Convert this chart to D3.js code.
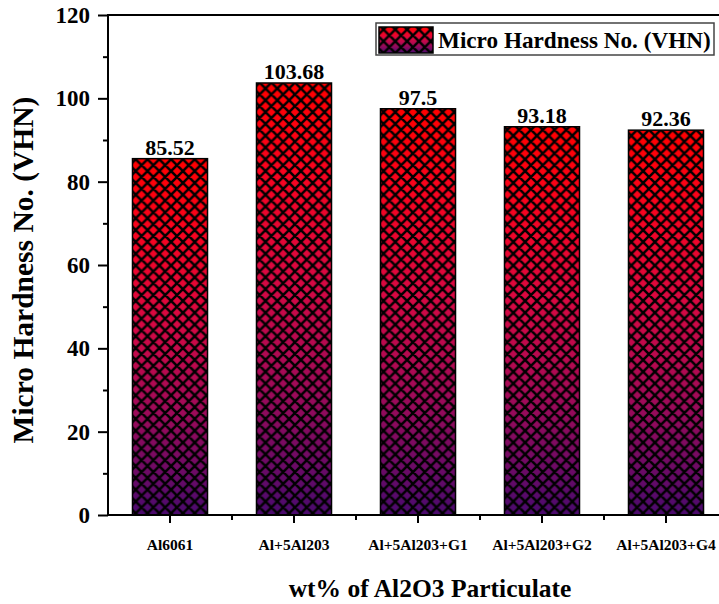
<!DOCTYPE html>
<html><head><meta charset="utf-8">
<script src="https://cdn.jsdelivr.net/npm/d3@7"></script>
<style>body{margin:0;background:#fff}svg{display:block}text{font-family:"Liberation Serif","Times New Roman",serif;font-weight:bold}</style>
</head><body>
<svg id="c" width="719" height="604"></svg>
<script>
const categories = ["Al6061","Al+5Al203","Al+5Al203+G1","Al+5Al203+G2","Al+5Al203+G4"];
const values = [85.52,103.68,97.5,93.18,92.36];
const valueLabels = ["85.52","103.68","97.5","93.18","92.36"];
const yTicks = [0,20,40,60,80,100,120];
const yMinorTicks = [10,30,50,70,90,110];
const seriesName = "Micro Hardness No. (VHN)";
const yTitle = "Micro Hardness No. (VHN)";
const xTitle = "wt% of Al2O3 Particulate";

const svg = d3.select("#c");
const L = 108, T = 15, B = 515, R = 728;
const x = d3.scaleBand().domain(categories).range([L, R]).paddingInner(0.395).paddingOuter(0.1975);
const y = d3.scaleLinear().domain([0,120]).range([B, T]);

const defs = svg.append("defs");
const g = defs.append("linearGradient").attr("id","grad").attr("x1",0).attr("y1",0).attr("x2",0).attr("y2",1);
[[0,"#ff0000"],[0.2,"#f8031e"],[0.45,"#d80842"],[0.7,"#a00a58"],[1,"#4a0a6e"]].forEach(([o,c])=>g.append("stop").attr("offset",o).attr("stop-color",c));
const pw = 11.8;
const p = defs.append("pattern").attr("id","hatch").attr("patternUnits","userSpaceOnUse").attr("width",pw).attr("height",pw);
p.append("path").attr("d",`M0,0L${pw},${pw}M${pw},0L0,${pw}M-1,-1L1,1M${pw-1},${pw+1}L${pw+1},${pw-1}`).attr("stroke","#000").attr("stroke-width",2.5);

// bars
const bars = svg.append("g");
categories.forEach((c,i)=>{
  const bx = x(c), bw = x.bandwidth(), by = y(values[i]), bh = y(0)-y(values[i]);
  bars.append("rect").attr("x",bx).attr("y",by).attr("width",bw).attr("height",bh).attr("fill","url(#grad)");
  bars.append("rect").attr("x",bx).attr("y",by).attr("width",bw).attr("height",bh).attr("fill","url(#hatch)").attr("stroke","#000").attr("stroke-width",1.5);
  svg.append("text").attr("x",bx+bw/2).attr("y",by-4).attr("text-anchor","middle").attr("font-size",22).text(valueLabels[i]);
});

// axes
const yAx = d3.axisLeft(y).tickValues(yTicks).tickSize(10).tickPadding(8);
const ya = svg.append("g").attr("transform",`translate(${L},0)`).call(yAx);
ya.selectAll("text").attr("font-size",23).attr("fill","#000").style("font-family","Liberation Serif").style("font-weight","bold");
svg.append("g").attr("transform",`translate(${L},0)`).call(d3.axisLeft(y).tickValues(yMinorTicks).tickSize(5).tickFormat(""));
const xAx = d3.axisBottom(x).tickSize(8).tickPadding(16);
const xa = svg.append("g").attr("transform",`translate(0,${B})`).call(xAx);
xa.selectAll("text").attr("font-size",15.5).attr("fill","#000").style("font-family","Liberation Serif").style("font-weight","bold");
const minor = categories.map(c=>x(c)+x.bandwidth()/2+x.step()/2).filter(v=>v<719);
const xm = svg.append("g");
minor.forEach(v=>xm.append("line").attr("x1",v).attr("x2",v).attr("y1",B).attr("y2",B+5).attr("stroke","#000").attr("stroke-width",2));
svg.selectAll(".tick line").attr("stroke","#000").attr("stroke-width",2);
svg.selectAll(".domain").remove();
svg.append("line").attr("x1",L).attr("x2",L).attr("y1",T).attr("y2",B+1).attr("stroke","#000").attr("stroke-width",2);
svg.append("line").attr("x1",L-1).attr("x2",719).attr("y1",B).attr("y2",B).attr("stroke","#000").attr("stroke-width",2);
svg.append("line").attr("x1",L-1).attr("x2",719).attr("y1",T).attr("y2",T).attr("stroke","#000").attr("stroke-width",2);

// titles
svg.append("text").attr("transform","translate(33,270) rotate(-90)").attr("text-anchor","middle").attr("font-size",29.5).text(yTitle);
svg.append("text").attr("x",430).attr("y",597).attr("text-anchor","middle").attr("font-size",25.5).text(xTitle);

// legend
const lg = svg.append("g");
lg.append("rect").attr("x",376).attr("y",23).attr("width",338).attr("height",32).attr("fill","#fff").attr("stroke","#444").attr("stroke-width",1.5);
lg.append("rect").attr("x",379).attr("y",27).attr("width",54).attr("height",26).attr("fill","url(#grad)");
lg.append("rect").attr("x",379).attr("y",27).attr("width",54).attr("height",26).attr("fill","url(#hatch)").attr("stroke","#000").attr("stroke-width",1.5);
lg.append("text").attr("x",438).attr("y",48).attr("font-size",23.2).text(seriesName);
</script>
</body></html>
